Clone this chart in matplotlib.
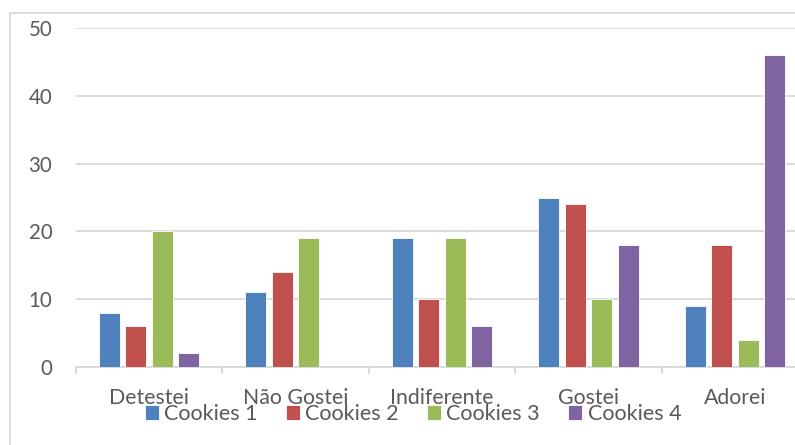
import matplotlib
matplotlib.use("Agg")
import matplotlib.pyplot as plt
from matplotlib.lines import Line2D
import numpy as np

categories = ["Detestei", "Não Gostei", "Indiferente", "Gostei", "Adorei"]
series_names = ["Cookies 1", "Cookies 2", "Cookies 3", "Cookies 4"]
cookies_1 = [8, 11, 19, 25, 9]
cookies_2 = [6, 14, 10, 24, 18]
cookies_3 = [20, 19, 19, 10, 4]
cookies_4 = [2, 0, 6, 18, 46]
y_ticks = [0, 10, 20, 30, 40, 50]

series = [cookies_1, cookies_2, cookies_3, cookies_4]
colors = ["#4F81BD", "#C0504D", "#9BBB59", "#8064A2"]
grid_color = "#D9D9D9"
text_color = "#595959"

plt.rcParams["font.family"] = ["Lato", "DejaVu Sans"]

W, H = 795, 445
fig = plt.figure(figsize=(W / 100, H / 100), dpi=100)

# plot area (extends slightly past the right edge of the canvas)
left_px, right_px, top_px, bottom_px = 76, 808, 28, 367
ax = fig.add_axes([left_px / W, 1 - bottom_px / H,
                   (right_px - left_px) / W, (bottom_px - top_px) / H])

x = np.arange(len(categories))
step = 0.181
width = 0.143
offsets = (np.arange(len(series)) - (len(series) - 1) / 2) * step
for vals, off, col, name in zip(series, offsets, colors, series_names):
    ax.bar(x + off, vals, width=width, color=col, edgecolor="white",
           linewidth=0.6, label=name, zorder=3)

ax.set_xlim(-0.5, len(categories) - 0.5)
ax.set_ylim(0, 50)
ax.set_yticks(y_ticks)
ax.yaxis.grid(True, color=grid_color, linewidth=1.3, zorder=0)
ax.set_axisbelow(True)

for side in ("top", "right", "left"):
    ax.spines[side].set_visible(False)
ax.spines["bottom"].set_color(grid_color)
ax.spines["bottom"].set_linewidth(1.3)

ax.set_xticks(x)
ax.set_xticklabels(categories)
ax.set_xticks(np.arange(len(categories) + 1) - 0.5, minor=True)
ax.tick_params(axis="x", which="major", length=0, pad=15,
               labelsize=15.3, labelcolor=text_color)
ax.tick_params(axis="x", which="minor", length=5, width=1.3, color=grid_color)
ax.tick_params(axis="y", length=0, pad=17, labelsize=14.8, labelcolor=text_color)

# chart frame
fig.add_artist(Line2D([10 / W, 10 / W], [0, 1 - 13 / H], color=grid_color,
                      linewidth=1.3, transform=fig.transFigure))
fig.add_artist(Line2D([10 / W, 1], [1 - 13 / H, 1 - 13 / H], color=grid_color,
                      linewidth=1.3, transform=fig.transFigure))

leg = fig.legend(loc="center", bbox_to_anchor=(413 / W, 1 - 414 / H), ncol=4,
                 frameon=False, fontsize=15.5, handlelength=0.66,
                 handleheight=0.66, handletextpad=0.25, columnspacing=1.3,
                 borderpad=0, borderaxespad=0)
for t in leg.get_texts():
    t.set_color(text_color)

fig.savefig("out.png", dpi=100, facecolor="white")
